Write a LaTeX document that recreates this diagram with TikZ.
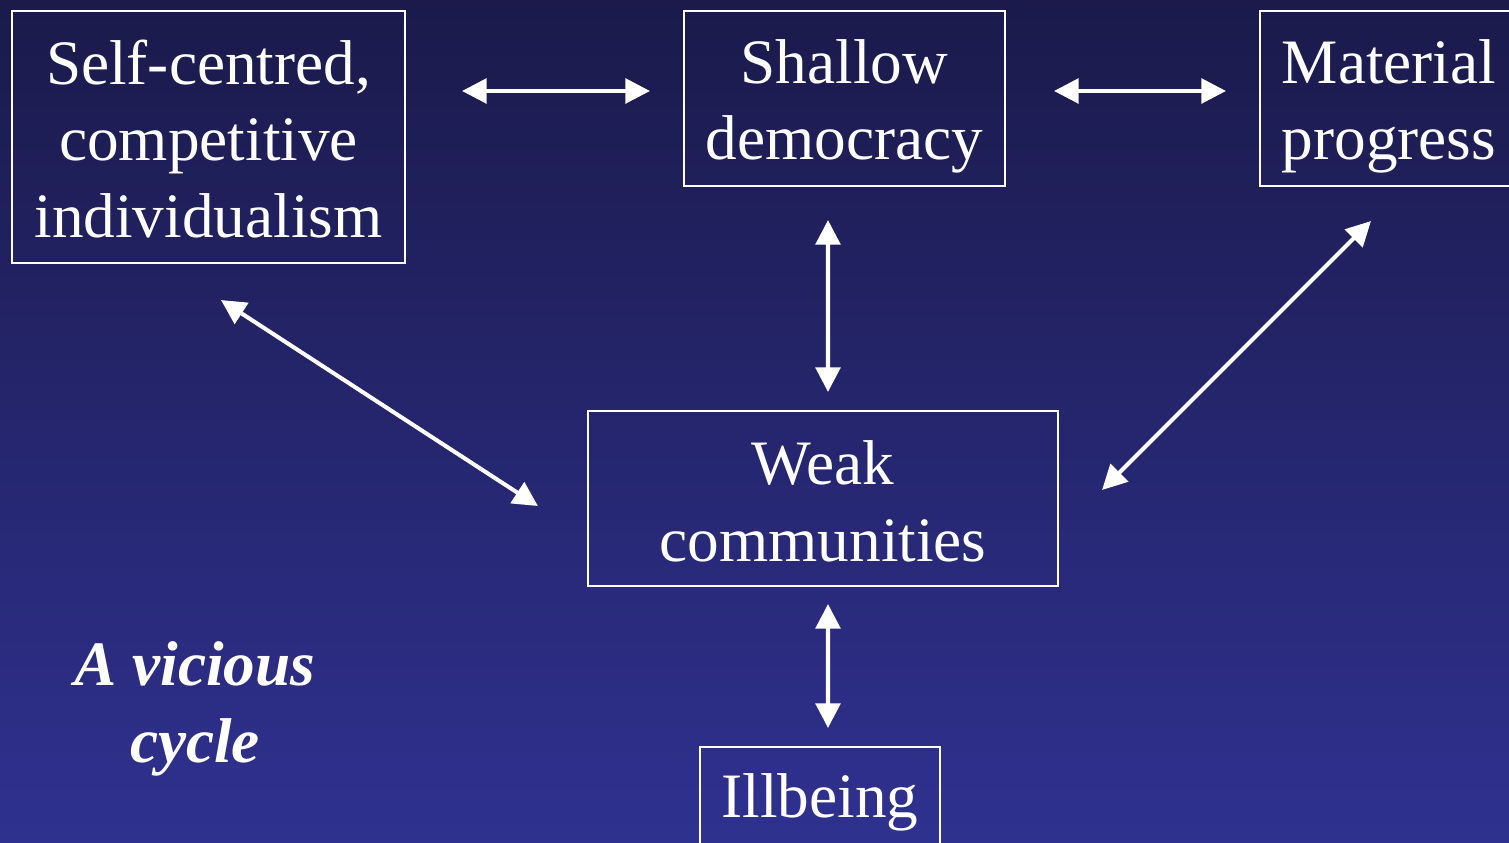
\documentclass[tikz,border=0pt]{standalone}
\usepackage{fontspec}
\setmainfont{Liberation Serif}
\usetikzlibrary{arrows.meta,positioning,calc}

\definecolor{slidetop}{RGB}{27,26,75}
\definecolor{slidebottom}{RGB}{47,49,144}
\newcommand{\lift}[1]{\rule{0pt}{#1}}

\begin{document}
\begin{tikzpicture}[
    box/.style={rectangle, draw=white, line width=1.2pt, text=white, align=center, inner sep=0pt,
        font=\fontsize{36}{43.6}\selectfont},
    link/.style={white, line width=2.3pt, {Triangle[length=14pt,width=14pt]}-{Triangle[length=14pt,width=14pt]}}
]

    \clip (0,0) rectangle (30.18,-16.86);
    \shade[top color=slidetop, bottom color=slidebottom] (0,0) rectangle (30.18,-16.86);

    \node[box, minimum width=7.86cm, minimum height=5.04cm] (self) at (4.17,-2.74) {\lift{27.5pt}Self-centred,\\competitive\\individualism};
    \node[box, minimum width=6.42cm, minimum height=3.5cm] (shallow) at (16.89,-1.97) {\lift{34pt}Shallow\\democracy};
    \node[box, minimum width=5.16cm, minimum height=3.5cm] (material) at (27.78,-1.97) {\lift{34pt}Material\\progress};
    \node[box, minimum width=9.4cm, minimum height=3.5cm] (weak) at (16.46,-9.97) {\lift{28pt}Weak\\communities};
    \node[box, minimum width=4.8cm, minimum height=2.22cm] (ill) at (16.4,-16.05) {Illbeing};

    % Fleches
    \draw[link] ($(self.east)+(1.12,0.92)$) -- ($(shallow.west)+(-0.66,0.15)$);
    \draw[link] ($(shallow.east)+(0.96,0.15)$) -- ($(material.west)+(-0.66,0.15)$);
    \draw[link] ($(shallow.south)+(-0.33,-0.66)$) -- ($(weak.north)+(0.1,0.36)$);
    \draw[link] ($(weak.south)+(0.1,-0.34)$) -- ($(ill.north)+(0.16,0.36)$);
    \draw[link] ($(self.south)+(0.25,-0.72)$) -- ($(weak.west)+(-0.98,-0.15)$);
    \draw[link] ($(material.south)+(-0.36,-0.68)$) -- ($(weak.east)+(0.86,0.17)$);

    % Label
    \node[text=white, align=center, font=\fontsize{36}{43.6}\selectfont\bfseries\itshape] (cycle) at (3.9,-14.18) {A vicious\\cycle};

\end{tikzpicture}
\end{document}
